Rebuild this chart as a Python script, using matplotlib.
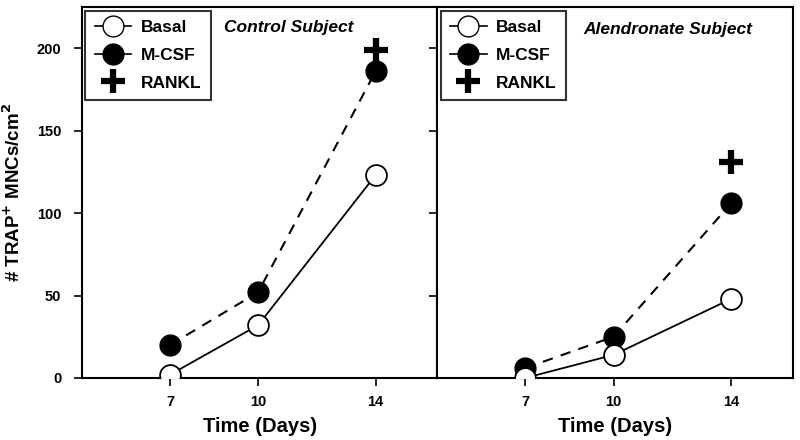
import matplotlib.pyplot as plt
from matplotlib.lines import Line2D

plt.rcParams['font.family'] = ['Liberation Sans', 'DejaVu Sans']
plt.rcParams['font.weight'] = 'bold'
plt.rcParams['mathtext.default'] = 'bf'

days = [7, 10, 14]
ctrl_basal = [2, 32, 123]
ctrl_mcsf = [20, 52, 186]
ctrl_rankl = 199
alen_basal = [0, 14, 48]
alen_mcsf = [6, 25, 106]
alen_rankl = 131
titles = ['Control Subject', 'Alendronate Subject']

fig = plt.figure(figsize=(8, 4.4), dpi=100)
ax1 = fig.add_axes([0.1025, 0.141, 0.444, 0.843])
ax2 = fig.add_axes([0.5463, 0.141, 0.445, 0.843])

panels = [(ax1, ctrl_basal, ctrl_mcsf, ctrl_rankl, titles[0], 0.583, 0.946),
          (ax2, alen_basal, alen_mcsf, alen_rankl, titles[1], 0.649, 0.94)]

for ax, basal, mcsf, rankl, title, tx, ty in panels:
    ax.plot(days, mcsf, color='black', lw=1.5, ls=(0, (5, 4)), marker='o',
            ms=15, mfc='black', mec='black', zorder=3)
    ax.plot(days, basal, color='black', lw=1.3, marker='o', ms=15,
            mfc='white', mec='black', mew=1.3, zorder=4)
    ax.plot([14], [rankl], ls='none', marker='+', ms=17, mew=4.5,
            color='black', zorder=5)
    ax.set_xlim(4, 16.1)
    ax.set_ylim(0, 225)
    ax.set_xticks(days)
    ax.set_xticklabels(['7', '10', '14'], fontsize=10.5, fontweight='bold')
    ax.set_yticks([0, 50, 100, 150, 200])
    ax.tick_params(direction='out', length=6, width=1.2, colors='black')
    ax.tick_params(axis='x', pad=6)
    ax.tick_params(axis='y', pad=9)
    for s in ax.spines.values():
        s.set_linewidth(1.5)
    ax.set_xlabel('Time (Days)', fontsize=14.5, fontweight='bold', labelpad=6)
    ax.text(tx, ty, title, transform=ax.transAxes, fontsize=12.5,
            fontweight='bold', style='italic', ha='center', va='center')
    handles = [
        Line2D([], [], color='black', lw=1.2, marker='o', ms=15,
               mfc='white', mec='black'),
        Line2D([], [], color='black', lw=1.2, marker='o', ms=15,
               mfc='black', mec='black'),
        Line2D([], [], ls='none', marker='+', ms=17, mew=4.5, color='black'),
    ]
    leg = ax.legend(handles, ['Basal', 'M-CSF', 'RANKL'], loc='upper left',
                    fontsize=12.5, handlelength=2.1, frameon=True, fancybox=False,
                    borderpad=0.55, labelspacing=0.72, handletextpad=0.55,
                    borderaxespad=0.2)
    leg.get_frame().set_edgecolor('black')
    leg.get_frame().set_linewidth(1.5)
    for t in leg.get_texts():
        t.set_fontweight('bold')

ax1.set_yticklabels(['0', '50', '100', '150', '200'], fontsize=10.5,
                    fontweight='bold')
ax2.set_yticklabels([])
ax1.set_ylabel('# TRAP$^{+}$ MNCs/cm$^{2}$', fontsize=13.5, fontweight='bold',
               labelpad=9)

fig.savefig('out.png', dpi=100)
